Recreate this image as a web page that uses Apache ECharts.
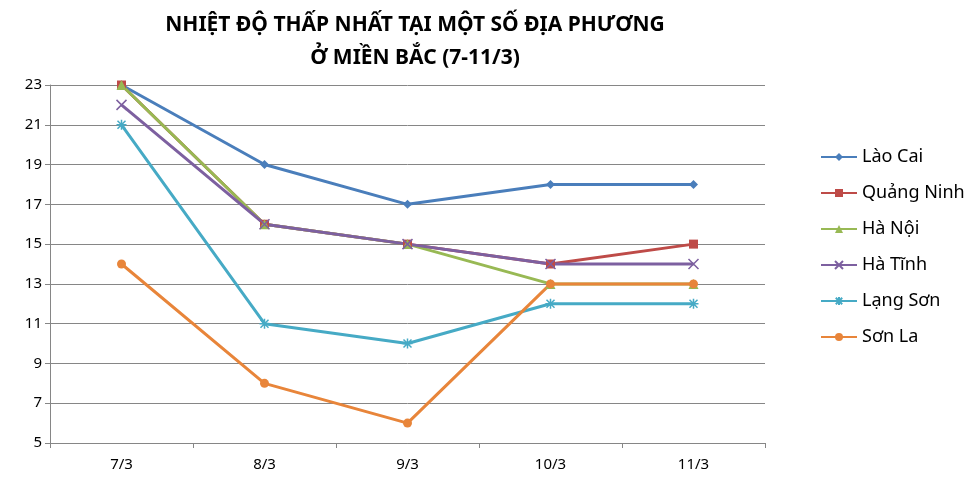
<!DOCTYPE html><html><head><meta charset="utf-8"><script src="https://cdn.jsdelivr.net/npm/echarts@6/dist/echarts.min.js"></script></head><body style="margin:0"><div id="c" style="width:964px;height:486px"></div><script>
const categories=['7/3','8/3','9/3','10/3','11/3'];
const names=['Lào Cai','Quảng Ninh','Hà Nội','Hà Tĩnh','Lạng Sơn','Sơn La'];
const laoCai=[23,19,17,18,18];
const quangNinh=[23,16,15,14,15];
const haNoi=[23,16,15,13,13];
const haTinh=[22,16,15,14,14];
const langSon=[21,11,10,12,12];
const sonLa=[14,8,6,13,13];
const data=[laoCai,quangNinh,haNoi,haTinh,langSon,sonLa];
const colors=['#4a7ebb','#be4b48','#98b954','#7d60a0','#46aac5','#e8853a'];
const X='path://M0,0L10,10M10,0L0,10';
const STAR='path://M5,0L5,10M0,5L10,5M1,1L9,9M9,1L1,9';
const symbols=['diamond','rect','triangle',X,STAR,'circle'];
const sizes=[9,9,10,10,10,9];
const c=echarts.init(document.getElementById('c'));
c.setOption({
 animation:false,
 title:{text:'NHIỆT ĐỘ THẤP NHẤT TẠI MỘT SỐ ĐỊA PHƯƠNG\nỞ MIỀN BẮC (7-11/3)',left:410,textAlign:'center',top:4,textStyle:{fontFamily:'Noto Sans',fontWeight:'bold',fontSize:21,lineHeight:33,color:'#000'}},
 grid:{left:50,right:199,top:85,bottom:43},
 legend:{orient:'vertical',left:815,top:143,itemGap:18,itemWidth:36,itemHeight:10,textStyle:{fontFamily:'Noto Sans',fontSize:18,color:'#000'},data:names},
 xAxis:{type:'category',data:categories,boundaryGap:true,axisLine:{lineStyle:{color:'#868686'}},axisTick:{show:true,lineStyle:{color:'#868686'}},axisLabel:{fontFamily:'Noto Sans',fontSize:15,color:'#000',margin:14}},
 yAxis:{type:'value',min:5,max:23,interval:2,axisLine:{show:true,lineStyle:{color:'#868686'}},axisTick:{show:true,lineStyle:{color:'#868686'}},splitLine:{lineStyle:{color:'#868686'}},axisLabel:{fontFamily:'Noto Sans',fontSize:15,color:'#000'}},
 series:names.map((n,i)=>({name:n,type:'line',data:data[i],symbol:symbols[i],symbolSize:sizes[i],color:colors[i],lineStyle:{width:3,color:colors[i]},itemStyle:{color:colors[i],borderColor:colors[i],borderWidth:(i==3||i==4)?1.5:0}}))
});
</script></body></html>
